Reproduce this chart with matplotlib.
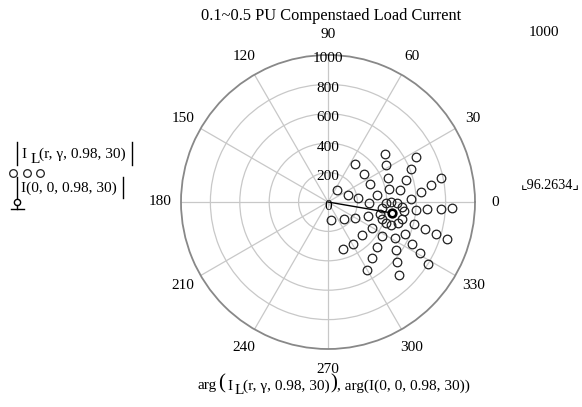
import numpy as np
import matplotlib
matplotlib.use("Agg")
import matplotlib.pyplot as plt
from matplotlib.lines import Line2D

W, H = 582, 407

re_IL = [515, 501, 470, 431, 395, 367, 356, 370, 397, 431, 474, 506,
         597, 565, 492, 415, 333, 279, 274, 297, 367, 458, 526, 583,
         674, 633, 528, 406, 288, 206, 186, 231, 333, 460, 574, 660,
         769, 703, 567, 397, 243, 136, 107, 170, 299, 470, 628, 737,
         844, 769, 599, 390, 186, 61, 23, 102, 265, 481, 678, 810]
im_IL = [-64, -34, -5, 2, -9, -39, -79, -116, -143, -154, -145, -113,
         -57, 18, 79, 86, 50, -7, -98, -175, -234, -243, -220, -147,
         -50, 68, 147, 163, 125, 27, -107, -227, -306, -329, -284, -184,
         -45, 113, 227, 250, 193, 50, -113, -288, -381, -408, -347, -220,
         -39, 163, 306, 329, 261, 84, -120, -318, -465, -499, -420, -250]
# I(0,0,0.98,30)
re_I0 = [436]
im_I0 = [-75]

r_ticks = [0, 200, 400, 600, 800, 1000]
theta_ticks = list(range(0, 360, 30))
r_max = 1000

title = "0.1~0.5 PU Compenstaed Load Current"
serif = ["Liberation Serif", "DejaVu Serif"]

plt.rcParams["font.family"] = serif

fig = plt.figure(figsize=(W / 100, H / 100), dpi=100)

def fx(x):
    return x / W

def fy(y):
    return 1 - y / H

cx, cy, R = 328, 202, 147
ax = fig.add_axes([fx(cx - R), fy(cy + R), 2 * R / W, 2 * R / H], projection="polar")
ax.set_ylim(0, r_max)
ax.set_thetagrids(theta_ticks, labels=[])
ax.set_rgrids(r_ticks[1:-1], labels=[])
ax.grid(True, color="#c8c8c8", lw=0.9)
ax.spines["polar"].set_color("#888888")
ax.spines["polar"].set_linewidth(1.3)
ax.set_facecolor("white")

mag = np.hypot(re_IL, im_IL)
ang = np.arctan2(im_IL, re_IL)
ax.plot(ang, mag, "o", mfc="none", mec="#202020", ms=6.2, mew=0.9, clip_on=False)

mag0 = np.hypot(re_I0, im_I0)
ang0 = np.arctan2(im_I0, re_I0)
ax.plot([ang0[0], ang0[0]], [0, mag0[0]], color="black", lw=1.0)
ax.plot(ang0, mag0, "o", mfc="white", mec="black", ms=5.5, mew=1.9)

tfs = 11
# angle labels
for t in theta_ticks:
    ax.text(np.deg2rad(t), 1140, str(t), ha="center", va="center", fontsize=tfs, clip_on=False)

# radial labels
for r in r_ticks:
    ax.annotate(str(r), xy=(np.pi / 2, r), xytext=(0, -4 if r else -5), textcoords="offset pixels",
                ha="center", va="center", fontsize=tfs, annotation_clip=False)

# title and side labels
fig.text(fx(331), fy(16), title, ha="center", va="center", fontsize=11.8)
fig.text(fx(544), fy(32), "1000", ha="center", va="center", fontsize=tfs)
fig.text(fx(550), fy(185), "\u231e96.2634\u231f", ha="center", va="center", fontsize=10.2,
         family=["Liberation Serif", "DejaVu Sans"])

# legend on left
fs = 11
fig.text(fx(21), fy(154), "I", ha="left", va="center", fontsize=fs)
fig.text(fx(31), fy(159), "L", ha="left", va="center", fontsize=fs)
fig.text(fx(39), fy(154), "(r, \u03b3, 0.98, 30)", ha="left", va="center", fontsize=fs)
fig.add_artist(Line2D([fx(17), fx(17)], [fy(142), fy(165)], color="black", lw=1))
fig.add_artist(Line2D([fx(132), fx(132)], [fy(142), fy(165)], color="black", lw=1))
fig.add_artist(Line2D([fx(13), fx(27), fx(40)], [fy(173)] * 3, ls="none", marker="o",
                      mfc="none", mec="#202020", ms=5.5, mew=0.9))
fig.text(fx(21), fy(188), "I(0, 0, 0.98, 30)", ha="left", va="center", fontsize=fs)
fig.add_artist(Line2D([fx(17), fx(17)], [fy(177), fy(198)], color="black", lw=1))
fig.add_artist(Line2D([fx(123), fx(123)], [fy(177), fy(198)], color="black", lw=1))
fig.add_artist(Line2D([fx(17)], [fy(202)], ls="none", marker="o", mfc="none", mec="black", ms=4.5, mew=1))
fig.add_artist(Line2D([fx(17), fx(17)], [fy(205), fy(209)], color="black", lw=1))
fig.add_artist(Line2D([fx(11), fx(24)], [fy(209), fy(209)], color="black", lw=1))

# bottom label
yb = 386
fig.text(fx(198), fy(yb), "arg", ha="left", va="center", fontsize=fs)
fig.text(fx(218), fy(yb - 2), "(", ha="left", va="center", fontsize=15)
fig.text(fx(227), fy(yb), "I", ha="left", va="center", fontsize=fs)
fig.text(fx(235), fy(yb + 5), "L", ha="left", va="center", fontsize=fs)
fig.text(fx(243), fy(yb), "(r, \u03b3, 0.98, 30)", ha="left", va="center", fontsize=fs)
fig.text(fx(330), fy(yb - 2), ")", ha="left", va="center", fontsize=15)
fig.text(fx(337), fy(yb), ", arg(I(0, 0, 0.98, 30))", ha="left", va="center", fontsize=fs)

fig.savefig("out.png", dpi=100, facecolor="white")
